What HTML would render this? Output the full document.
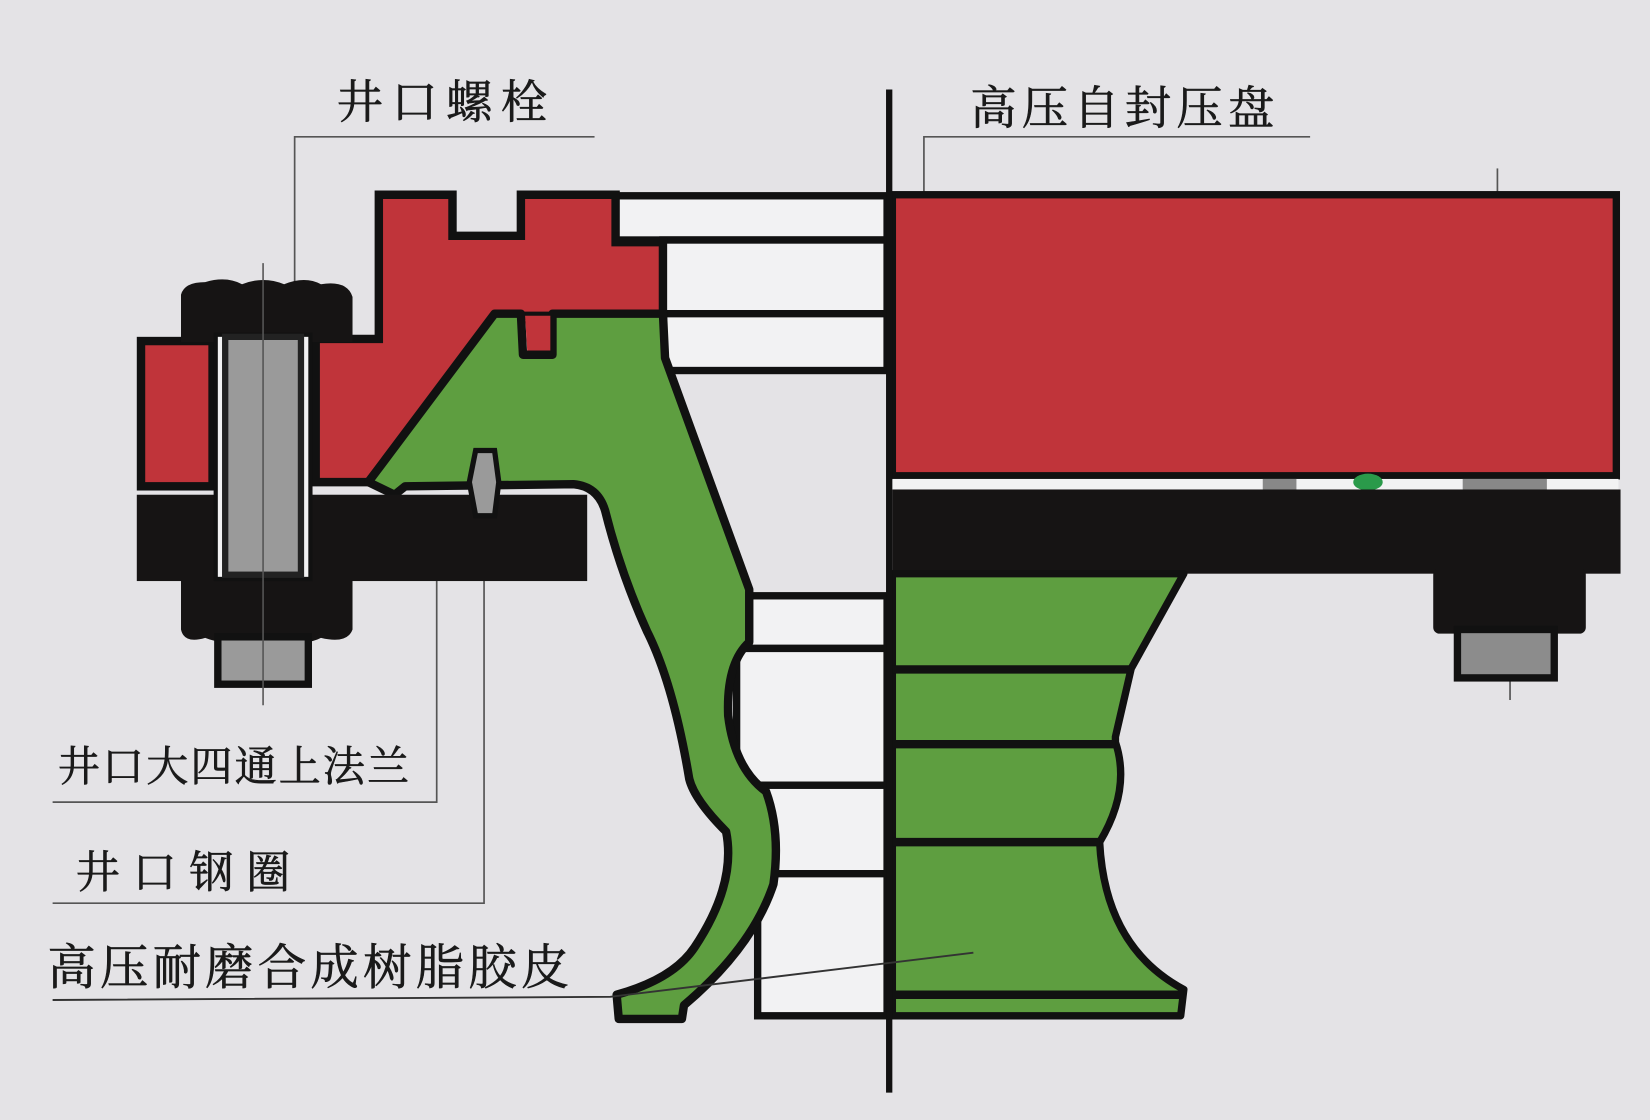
<!DOCTYPE html>
<html><head><meta charset="utf-8"><style>
html,body{margin:0;padding:0;background:#e4e3e6;}
svg{display:block}
text{font-family:"Liberation Serif","Noto Serif CJK SC",serif;fill:#1a1a1a;stroke:#1a1a1a;stroke-width:0.6;}
</style></head><body>
<svg width="1650" height="1120" viewBox="0 0 1568 1064" preserveAspectRatio="none" xmlns="http://www.w3.org/2000/svg">
<rect width="1568" height="1064" fill="#e4e3e6"/>
<g stroke="#555" stroke-width="1.6" fill="none">
<polyline points="280,290 280,130 565,130"/>
<polyline points="878,205 878,130 1245,130"/>
<line x1="1423" y1="160" x2="1423" y2="185"/>
<line x1="1435" y1="640" x2="1435" y2="665"/>
<polyline points="415,550 415,762 50,762"/>
<polyline points="460,550 460,858 50,858"/>
</g>
<!-- left white slats -->
<g stroke="#111" stroke-width="7" fill="#f2f2f3">
<rect x="585" y="186" width="258" height="42"/>
<rect x="630" y="228" width="213" height="70"/>
<rect x="630" y="298" width="213" height="54"/>
<rect x="700" y="566" width="143" height="50"/>
<rect x="700" y="616" width="143" height="130"/>
<rect x="720" y="746" width="123" height="84"/>
<rect x="720" y="830" width="123" height="135"/>
</g>
<!-- red main piece -->
<path d="M360,185 L430,185 L430,224 L495,224 L495,185 L585,185 L585,230 L630,230 L630,300 L470,300 L350,458 L300,458 L300,322 L360,322 Z" fill="#c0343a" stroke="#111" stroke-width="8" stroke-linejoin="miter"/>
<!-- green left rubber -->
<path d="M470,298 L495,298 L497,337 L525,337 L525,298 L630,298 L632,340 L712,560 L712,610 Q690,630 692,680 Q698,730 728,752 Q742,790 735,840 Q715,900 650,955 L648,968 L588,968 L586,945 Q640,930 660,900 Q700,840 690,790 Q660,760 655,740 Q640,650 615,600 Q590,545 575,485 Q568,462 545,460 L385,462 L375,470 L350,458 Z" fill="#5e9e40" stroke="#111" stroke-width="8" stroke-linejoin="round"/>
<path d="M499,300 L523,300 L523,333 L501,333 Z" fill="#c0343a"/>
<!-- left flange red part -->
<rect x="134" y="324" width="68" height="138" fill="#c0343a" stroke="#111" stroke-width="8"/>
<!-- black plate -->
<rect x="130" y="470" width="428" height="82" fill="#161414"/>
<!-- nuts -->
<path d="M172,280 Q175,268 195,268 Q215,262 230,270 Q250,262 270,270 Q290,262 305,270 Q330,266 335,282 L335,325 L172,325 Z" fill="#161414"/>
<path d="M172,548 L335,548 L335,598 Q330,612 305,606 Q290,614 270,606 Q250,614 230,606 Q215,614 195,606 Q175,612 172,598 Z" fill="#161414"/>
<!-- bolt -->
<rect x="205" y="318" width="90" height="232" fill="#f2f2f3" stroke="#111" stroke-width="4"/>
<rect x="214" y="320" width="72" height="226" fill="#9a9a9a" stroke="#222" stroke-width="6"/>
<rect x="207" y="605" width="86" height="45" fill="#9a9a9a" stroke="#111" stroke-width="7"/>
<line x1="250" y1="250" x2="250" y2="670" stroke="#555" stroke-width="1.5"/>
<!-- small pin -->
<path d="M452,428 L470,428 L474,458 L470,490 L452,490 L446,458 Z" fill="#9a9a9a" stroke="#111" stroke-width="5"/>
<!-- right side -->
<rect x="848" y="185" width="688" height="267" fill="#c0343a" stroke="#111" stroke-width="7"/>
<rect x="848" y="455" width="690" height="10" fill="#f2f2f3"/>
<rect x="1200" y="455" width="32" height="12" fill="#888"/>
<rect x="1390" y="455" width="80" height="12" fill="#888"/>
<ellipse cx="1300" cy="458" rx="14" ry="8" fill="#2a9a4a"/>
<rect x="848" y="465" width="692" height="80" fill="#161414"/>
<rect x="1362" y="540" width="145" height="62" rx="6" fill="#161414"/>
<rect x="1385" y="598" width="92" height="46" fill="#8c8c8c" stroke="#111" stroke-width="7"/>
<path d="M848,545 L1125,545 L1075,635 L1060,700 L1060,705 Q1075,750 1045,800 Q1050,900 1125,940 L1122,965 L848,965 Z" fill="#5e9e40" stroke="#111" stroke-width="7" stroke-linejoin="round"/>
<g stroke="#111" stroke-width="8">
<line x1="848" y1="636" x2="1075" y2="636"/>
<line x1="848" y1="707" x2="1060" y2="707"/>
<line x1="848" y1="800" x2="1045" y2="800"/>
<line x1="848" y1="945" x2="1125" y2="945"/>
</g>
<line x1="845" y1="85" x2="845" y2="1038" stroke="#111" stroke-width="6"/>
<polyline points="50,950 580,947 925,905" stroke="#333" stroke-width="1.8" fill="none"/>
<!-- labels -->
<text x="320" y="112" font-size="44" letter-spacing="8">井口螺栓</text>
<text x="922" y="118" font-size="44" letter-spacing="5">高压自封压盘</text>
<text x="55" y="742" font-size="40" letter-spacing="2">井口大四通上法兰</text>
<text x="72" y="843" font-size="42" letter-spacing="12">井口钢圈</text>
<text x="45" y="935" font-size="46" letter-spacing="4">高压耐磨合成树脂胶皮</text>
</svg>
</body></html>
